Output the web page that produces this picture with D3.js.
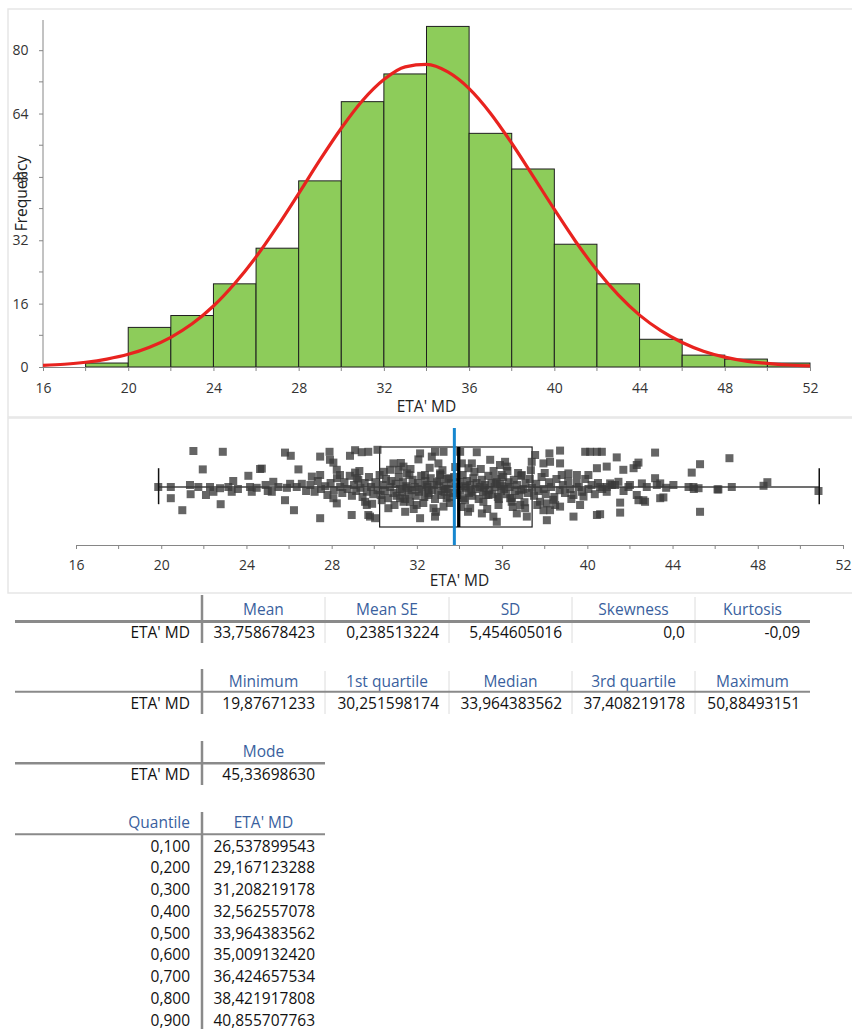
<!DOCTYPE html>
<html>
<head>
<meta charset="utf-8">
<script src="https://cdn.jsdelivr.net/npm/d3@7"></script>
<style>
  body { margin: 0; background: #fff; }
  svg { display: block; font-family: "Open Sans", sans-serif; }
  .axis path, .axis line { stroke: #868686; }
  .axis text { fill: #333; font-size: 14px; font-family: "Open Sans", sans-serif; }
</style>
</head>
<body>
<svg id="chart"></svg>
<script>
// ---- data ----
const binLow = [16, 18, 20, 22, 24, 26, 28, 30, 32, 34, 36, 38, 40, 42, 44, 46, 48, 50];
const binCounts = [0, 1, 10, 13, 21, 30, 47, 67, 74, 86, 59, 50, 31, 21, 7, 3, 2, 1];
const binWidth = 2;

// red fitted curve, read at each integer
const curveX = [16,17,18,19,20,21,22,23,24,25,26,27,28,29,30,31,32,33,34,35,36,37,38,39,40,41,42,43,44,45,46,47,48,49,50,51,52];
const curveY = [0.4,0.7,1.2,2.0,3.2,5.0,7.5,10.9,15.4,21.1,27.8,35.5,43.8,52.3,60.3,67.3,72.6,75.8,76.4,74.5,70.3,64.1,56.5,48.2,39.8,31.7,24.4,18.2,13.1,9.2,6.2,4.0,2.5,1.5,0.9,0.5,0.3];

const yTicks = [0, 16, 32, 48, 64, 80];
const xTicks = [16, 20, 24, 28, 32, 36, 40, 44, 48, 52];

const statMin = 19.87671233, statQ1 = 30.251598174, statMedian = 33.964383562,
      statQ3 = 37.408219178, statMax = 50.88493151, statMean = 33.758678423;

// jittered points: [value, offset in -1..1 of the box half height]
const jitterPoints = [
  [19.86,0],[20.45,0],[20.45,0.28],[20.99,0.58],[21.51,-0.9],[21.95,-0.44],[21.35,-0.05],[21.38,0.18],
  [21.74,0],[22.1,0.2],[22.29,0],[22.45,0.12],[22.89,-0.88],[22.79,0.43],[22.76,0.03],[23.15,0.0],
  [23.31,0.12],[23.38,-0.15],[24.09,-0.28],[24.17,0],[24.25,0.12],[24.48,0.02],[24.64,-0.45],[24.72,-0.46],
  [25.26,-0.13],[25.19,0.12],[25.5,0],[25.81,-0.86],[26.08,-0.78],[25.81,0.33],[26.23,0.58],[26.05,-0.08],
  [26.36,0],[26.44,-0.44],[23.6,0.05],[24.9,-0.05],[25.0,0.1],[25.9,0.02],[26.6,-0.08],[26.8,0.1],
  [27.07,-0.26],[27.46,-0.76],[27.46,-0.3],[27.46,0.78],[27.9,-0.88],[27.92,-0.68],[28.08,-0.61],[28.24,-0.43],
  [28.08,0.28],[28.24,0.41],[28.39,-0.3],[28.86,-0.78],[29.1,-0.92],[29.41,-0.87],[29.72,-0.88],[30.15,-0.93],
  [29.1,-0.36],[29.18,-0.22],[28.94,0.7],[29.57,0.37],[29.65,0.45],[29.72,0.7],[29.8,0.74],[30.04,0.78],
  [30.35,0.33],[30.66,0.53],[30.74,-0.43],[30.9,-0.59],[31.13,-0.43],[31.37,-0.51],[31.53,-0.34],[31.21,0.28],
  [31.37,0.37],[31.45,0.62],[31.68,0.37],[31.99,0.45],[32.07,-0.69],[32.15,-0.84],[32.15,0.78],[32.38,-0.3],
  [32.54,0.2],[32.7,-0.76],[32.85,-0.88],[32.78,0.53],[32.85,0.74],[33.01,-0.59],[33.09,-0.34],[33.25,-0.88],
  [33.25,0.49],[33.4,0.28],[33.48,-0.22],
  [34.03,-0.88],[34.11,-0.59],[34.81,-0.87],[34.58,-0.59],[34.42,-0.47],[34.5,0.53],[34.26,0.33],[35.05,0.66],
  [35.12,0.37],[35.36,0.2],[35.44,-0.68],[35.59,0.74],[35.75,0.87],[35.83,0.45],[35.9,-0.55],[36.14,-0.63],
  [36.22,-0.51],[35.98,-0.3],[36.38,0.28],[36.45,0.37],[36.69,0.66],[36.85,0.45],[36.92,-0.3],[37.08,0.53],
  [37.16,0.74],[37.39,-0.63],[37.55,-0.8],[37.94,-0.59],[38.22,-0.84],[38.25,-0.63],[38.72,-0.91],[38.72,-0.59],
  [37.78,0.37],[37.94,0.58],[38.1,0.41],[38.1,0.83],[38.25,0.58],[38.49,0.45],[38.72,0.49],[39.11,-0.34],
  [39.51,-0.3],[39.35,0.74],[39.66,0.45],[39.9,-0.88],[40.13,-0.88],[40.45,-0.88],[40.05,-0.3],[40.45,-0.47],
  [40.45,0.7],[39.82,0.24],
  [40.68,-0.88],[41.38,-0.74],[40.91,-0.51],[41.69,-0.43],[42.17,-0.47],[42.32,-0.55],[42.4,-0.61],[43.18,-0.86],
  [40.6,0],[40.91,0],[41.07,-0.09],[41.3,-0.05],[41.46,-0.13],[41.93,0],[42.0,-0.05],[40.91,0.12],
  [41.54,0.39],[41.54,0.64],[40.6,0.68],[42.32,0.2],[42.4,0.33],[42.63,0.33],[42.71,0.37],[42.56,-0.09],
  [42.79,0],[43.18,-0.22],[43.26,-0.05],[43.42,-0.09],[43.42,0.28],[43.57,0.26],[44.04,-0.05],[44.75,0],
  [44.9,-0.36],[44.98,0],[45.22,0.03],[45.29,-0.57],[45.29,0.62],[46.11,0.06],[46.15,0.06],[46.67,-0.72],
  [46.78,0],[48.27,-0.03],[48.45,-0.12],[50.85,0.1],
  [27.0,-0.05],[27.2,0.12],[27.35,-0.15],[27.5,0.05],[27.7,-0.02],[27.8,0.2],[27.95,-0.1],[28.1,0.08],
  [28.25,-0.22],[28.4,0.0],[28.5,0.15],[28.6,-0.12],[28.75,0.05],[28.85,-0.28],[28.95,0.22],[29.05,-0.05],
  [29.15,0.1],[29.25,-0.18],[29.35,0.02],[29.45,0.25],[29.55,-0.1],[29.65,0.12],[29.75,-0.25],[29.85,0.0],
  [29.95,0.18],[30.05,-0.12],[30.15,0.08],[30.25,-0.3],[30.3,0.2],[30.4,-0.05],[30.5,0.1],[30.55,-0.2],
  [30.65,0.28],[30.75,0.0],[30.8,-0.15],[30.9,0.15],[31.0,-0.08],[31.05,0.22],[31.15,-0.25],[31.2,0.05],
  [31.3,0.12],[31.35,-0.12],[31.45,0.3],[31.5,-0.02],[31.6,0.18],[31.65,-0.3],[31.75,0.08],[31.8,-0.18],
  [31.9,0.0],[31.95,0.22],[32.05,-0.1],[32.1,0.12],[32.2,-0.28],[32.25,0.05],[32.35,0.25],[32.4,-0.15],
  [32.5,0.0],[32.55,0.15],[32.65,-0.22],[32.7,0.08],[32.8,-0.05],[32.85,0.3],[32.95,-0.12],[33.0,0.1],
  [33.1,-0.3],[33.15,0.2],[33.25,-0.02],[33.3,0.12],[33.4,-0.2],[33.45,0.05],[33.55,0.25],[33.6,-0.1],
  [33.7,0.15],[33.75,-0.25],[33.85,0.0],[33.9,0.2],[34.0,-0.12],[34.05,0.08],[34.15,-0.3],[34.2,0.28],
  [34.3,0.02],[34.35,-0.15],[34.45,0.15],[34.5,-0.05],[34.6,0.22],[34.65,-0.22],[34.75,0.05],[34.8,-0.1],
  [34.9,0.3],[34.95,0.0],[35.05,-0.18],[35.1,0.12],[35.2,-0.05],[35.25,0.2],[35.35,-0.28],[35.4,0.08],
  [35.5,-0.1],[35.55,0.18],[35.65,0.0],[35.7,-0.2],[35.8,0.25],[35.9,-0.08],[35.95,0.1],[36.05,-0.25],
  [36.1,0.05],[36.2,0.18],[36.3,-0.12],[36.35,0.0],[36.45,0.28],[36.55,-0.18],[36.6,0.1],[36.7,-0.05],
  [36.8,0.2],[36.9,-0.28],[37.0,0.05],[37.1,-0.1],[37.2,0.15],[37.3,-0.2],[37.4,0.02],[37.5,0.22],
  [37.6,-0.08],[37.7,0.1],[37.85,-0.25],[37.95,0.05],[38.05,0.18],[38.2,-0.12],[38.3,0.0],[38.45,0.25],
  [38.55,-0.2],[38.7,0.08],[38.85,-0.05],[38.95,0.15],[39.1,-0.15],[39.2,0.05],[39.35,0.2],[39.5,-0.1],
  [39.6,0.0],[39.75,0.12],[39.9,-0.2],[40.05,0.05],[40.2,-0.05],[40.35,0.18],[40.5,-0.1],[40.7,0.05],
  [41.15,-0.05],[41.7,0.1],[43.7,0.02],[45.0,0.05],
  // extra points in the dense middle of the cloud
  [29.3,-0.4],[29.9,0.42],[30.45,-0.38],[30.95,0.45],[31.25,-0.6],[31.7,-0.45],[31.85,0.55],[32.3,0.4],
  [32.6,-0.48],[32.9,0.62],[33.2,-0.42],[33.55,0.4],[33.8,-0.5],[34.1,0.5],[34.4,0.62],[34.7,-0.38],
  [35.0,-0.45],[35.3,0.55],[35.6,-0.4],[35.85,0.3],[36.25,-0.4],[36.5,0.5],[36.75,-0.35],[37.05,0.38],
  [37.35,-0.42],[37.65,0.45],[38.0,-0.35],[38.4,0.32],[38.8,-0.3],[39.25,0.3],[31.55,0.02],[32.45,-0.05],
  [33.35,0.05],[34.25,-0.02],[35.15,0.02],[36.0,-0.02],[36.9,0.08],[33.05,-0.15],[34.55,0.12],[35.75,-0.12]
];

// tables
const tableRowLabel = "ETA' MD";
const table1Heads = ["Mean", "Mean SE", "SD", "Skewness", "Kurtosis"];
const table1Vals = ["33,758678423", "0,238513224", "5,454605016", "0,0", "-0,09"];
const table2Heads = ["Minimum", "1st quartile", "Median", "3rd quartile", "Maximum"];
const table2Vals = ["19,87671233", "30,251598174", "33,964383562", "37,408219178", "50,88493151"];
const table3Heads = ["Mode"];
const table3Vals = ["45,33698630"];
const quantileProbs = ["0,100", "0,200", "0,300", "0,400", "0,500", "0,600", "0,700", "0,800", "0,900"];
const quantileVals = ["26,537899543", "29,167123288", "31,208219178", "32,562557078", "33,964383562",
                      "35,009132420", "36,424657534", "38,421917808", "40,855707763"];

// ---- drawing ----
const W = 852, H = 1029;
const svg = d3.select('#chart').attr('width', W).attr('height', H);

// panel frames
svg.append('rect').attr('x', 8).attr('y', 9).attr('width', 850).attr('height', 408)
  .attr('fill', 'none').attr('stroke', '#e6e6e6').attr('stroke-width', 1.5);
svg.append('rect').attr('x', 8).attr('y', 418).attr('width', 850).attr('height', 175)
  .attr('fill', 'none').attr('stroke', '#e6e6e6').attr('stroke-width', 1.5);

// histogram
const xH = d3.scaleLinear().domain([16, 52]).range([43, 810]);
const yH = d3.scaleLinear().domain([0, 88]).range([367, 18.5]);

const hist = svg.append('g');
hist.selectAll('rect.bar')
  .data(binLow.map((b, i) => ({x0: b, x1: b + binWidth, n: binCounts[i]})))
  .join('rect')
    .attr('class', 'bar')
    .attr('x', d => xH(d.x0))
    .attr('y', d => yH(d.n))
    .attr('width', d => xH(d.x1) - xH(d.x0))
    .attr('height', d => yH(0) - yH(d.n))
    .attr('fill', '#8dcc5a')
    .attr('stroke', '#1e1e1e')
    .attr('stroke-width', 1);

// y axis
const yAxis = hist.append('g').attr('class', 'axis')
  .attr('transform', `translate(${xH(16)},0)`)
  .call(d3.axisLeft(yH).tickValues(yTicks).tickSizeInner(4).tickSizeOuter(0).tickPadding(10.5));
yAxis.select('.domain').attr('d', `M0,${yH(0)}V20`);
yAxis.selectAll('.minor').data([8, 24, 40, 56, 72, 88].filter(v => yH(v) >= 20)).join('line')
  .attr('class', 'minor').attr('x1', -4).attr('x2', 0)
  .attr('y1', d => yH(d)).attr('y2', d => yH(d)).attr('stroke', '#868686');

// x axis
const xAxisH = hist.append('g').attr('class', 'axis')
  .attr('transform', `translate(0,${yH(0)})`)
  .call(d3.axisBottom(xH).tickValues(xTicks).tickSizeInner(4).tickSizeOuter(0).tickPadding(12));
xAxisH.selectAll('.minor').data(d3.range(18, 52, 4)).join('line')
  .attr('class', 'minor').attr('y1', 0).attr('y2', 4)
  .attr('x1', d => xH(d)).attr('x2', d => xH(d)).attr('stroke', '#868686');

hist.append('text').attr('x', (xH(16) + xH(52)) / 2).attr('y', 411.5)
  .attr('text-anchor', 'middle').attr('font-size', 15.5).attr('fill', '#222')
  .text("ETA' MD");
hist.append('text')
  .attr('transform', `translate(27,${(yH(0) + 20) / 2}) rotate(-90)`)
  .attr('text-anchor', 'middle').attr('font-size', 15.5).attr('fill', '#222')
  .text('Frequency');

// fitted curve
hist.append('path')
  .datum(curveX.map((x, i) => [x, curveY[i]]))
  .attr('d', d3.line().x(d => xH(d[0])).y(d => yH(d[1])).curve(d3.curveMonotoneX))
  .attr('fill', 'none').attr('stroke', '#e8231f').attr('stroke-width', 3.2);

// box plot
const xB = d3.scaleLinear().domain([16, 52]).range([76, 843]);
const yJ = d3.scaleLinear().domain([-1, 1]).range([447, 527]);
const yMid = yJ(0);
const box = svg.append('g');

box.append('rect')
  .attr('x', xB(statQ1)).attr('y', yJ(-1))
  .attr('width', xB(statQ3) - xB(statQ1)).attr('height', yJ(1) - yJ(-1))
  .attr('fill', 'none').attr('stroke', '#1e1e1e').attr('stroke-width', 1.2);
box.append('line')
  .attr('x1', xB(statMin)).attr('x2', xB(statMax)).attr('y1', yMid).attr('y2', yMid)
  .attr('stroke', '#404040').attr('stroke-width', 1.5);

box.selectAll('rect.pt').data(jitterPoints).join('rect')
  .attr('class', 'pt')
  .attr('x', d => xB(d[0]) - 4).attr('y', d => yJ(d[1]) - 4)
  .attr('width', 8).attr('height', 8)
  .attr('fill', '#3a3a3a').attr('fill-opacity', 0.78);

[statMin, statMax].forEach(v => {
  box.append('line').attr('x1', xB(v)).attr('x2', xB(v))
    .attr('y1', yJ(-0.47)).attr('y2', yJ(0.43))
    .attr('stroke', '#111').attr('stroke-width', 1.5);
});
box.append('line').attr('x1', xB(statMedian)).attr('x2', xB(statMedian))
  .attr('y1', yJ(-1)).attr('y2', yJ(1))
  .attr('stroke', '#000').attr('stroke-width', 3.3);
box.append('line').attr('x1', xB(statMean)).attr('x2', xB(statMean))
  .attr('y1', 428).attr('y2', 545)
  .attr('stroke', '#1787cf').attr('stroke-width', 3);

const xAxisB = box.append('g').attr('class', 'axis')
  .attr('transform', 'translate(0,545)')
  .call(d3.axisBottom(xB).tickValues(xTicks).tickSizeInner(4).tickSizeOuter(0).tickPadding(11));
xAxisB.selectAll('.minor').data(d3.range(18, 52, 4)).join('line')
  .attr('class', 'minor').attr('y1', 0).attr('y2', 4)
  .attr('x1', d => xB(d)).attr('x2', d => xB(d)).attr('stroke', '#868686');
box.append('text').attr('x', (xB(16) + xB(52)) / 2).attr('y', 586)
  .attr('text-anchor', 'middle').attr('font-size', 15.5).attr('fill', '#222')
  .text("ETA' MD");

// ---- tables ----
const colEdges = [202, 325, 449, 572, 695, 810];
const headBlue = '#3a5f9e';

function drawTable(cfg) {
  const g = svg.append('g').attr('font-size', 15.5);
  const nCols = cfg.heads.length;
  const right = colEdges[nCols];
  // header
  if (cfg.cornerLabel) {
    g.append('text').attr('x', 190).attr('y', cfg.headY).attr('text-anchor', 'end')
      .attr('fill', headBlue).text(cfg.cornerLabel);
  }
  g.selectAll('text.head').data(cfg.heads).join('text').attr('class', 'head')
    .attr('x', (d, i) => (colEdges[i] + colEdges[i + 1]) / 2)
    .attr('y', cfg.headY).attr('text-anchor', 'middle').attr('fill', headBlue).text(d => d);
  // rows
  cfg.rows.forEach((row, r) => {
    const y = cfg.firstRowY + r * cfg.rowStep;
    g.append('text').attr('x', 190).attr('y', y).attr('text-anchor', 'end')
      .attr('fill', '#111').text(row.label);
    row.vals.forEach((v, i) => {
      g.append('text').attr('x', colEdges[i + 1] - 10).attr('y', y)
        .attr('text-anchor', 'end').attr('fill', '#111').text(v);
    });
  });
  // light column separators
  for (let i = 1; i < nCols; i++) {
    g.append('line').attr('x1', colEdges[i]).attr('x2', colEdges[i])
      .attr('y1', cfg.top + 2).attr('y2', cfg.bottom)
      .attr('stroke', '#dcdcdc').attr('stroke-width', 1);
  }
  g.append('line').attr('x1', 15).attr('x2', right).attr('y1', cfg.lineY).attr('y2', cfg.lineY)
    .attr('stroke', '#8a8a8a').attr('stroke-width', cfg.lineW);
  g.append('line').attr('x1', colEdges[0]).attr('x2', colEdges[0])
    .attr('y1', cfg.top).attr('y2', cfg.bottom)
    .attr('stroke', '#8a8a8a').attr('stroke-width', 2.5);
}

drawTable({heads: table1Heads, rows: [{label: tableRowLabel, vals: table1Vals}],
  top: 595, bottom: 643, headY: 615, lineY: 621.5, lineW: 3, firstRowY: 638, rowStep: 0});
drawTable({heads: table2Heads, rows: [{label: tableRowLabel, vals: table2Vals}],
  top: 669, bottom: 714, headY: 686.5, lineY: 691.7, lineW: 2, firstRowY: 708.5, rowStep: 0});
drawTable({heads: table3Heads, rows: [{label: tableRowLabel, vals: table3Vals}],
  top: 741, bottom: 785, headY: 756.5, lineY: 763.3, lineW: 2.5, firstRowY: 780, rowStep: 0});
drawTable({heads: [tableRowLabel], cornerLabel: 'Quantile',
  rows: quantileProbs.map((p, i) => ({label: p, vals: [quantileVals[i]]})),
  top: 812, bottom: 1029, headY: 828.3, lineY: 834.3, lineW: 2, firstRowY: 851.5, rowStep: 21.75});
</script>
</body>
</html>
